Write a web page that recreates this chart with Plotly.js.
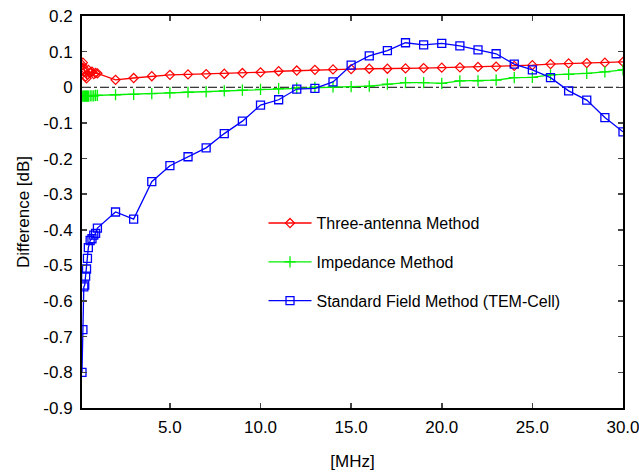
<!DOCTYPE html>
<html><head><meta charset="utf-8">
<script src="https://cdn.plot.ly/plotly-3.0.1.min.js"></script>
<style>html,body{margin:0;padding:0;background:#fff}#chart{width:639px;height:473px}</style>
</head><body><div id="chart"></div>
<script>
const freqThree = [0.15,0.2,0.25,0.3,0.35,0.4,0.45,0.5,0.6,0.7,0.8,0.9,1,2,3,4,5,6,7,8,9,10,11,12,13,14,15,16,17,18,19,20,21,22,23,24,25,26,27,28,29,30];
const threeAntenna = [0.063,0.069,0.053,0.044,0.030,0.025,0.035,0.049,0.040,0.044,0.037,0.040,0.039,0.021,0.026,0.031,0.035,0.036,0.037,0.038,0.040,0.042,0.045,0.047,0.049,0.050,0.051,0.052,0.052,0.053,0.054,0.055,0.056,0.057,0.058,0.060,0.062,0.065,0.067,0.068,0.069,0.071];
const freqImp = [0.15,0.2,0.25,0.3,0.35,0.4,0.45,0.5,0.6,0.7,0.8,0.9,1,2,3,4,5,6,7,8,9,10,11,12,13,14,15,16,17,18,19,20,21,22,23,24,25,26,27,28,29,30];
const impedance = [-0.025,-0.025,-0.025,-0.025,-0.025,-0.025,-0.025,-0.025,-0.024,-0.024,-0.024,-0.023,-0.023,-0.021,-0.020,-0.018,-0.016,-0.014,-0.012,-0.010,-0.008,-0.006,-0.004,-0.002,0.000,0.001,0.002,0.003,0.009,0.013,0.013,0.011,0.018,0.018,0.020,0.027,0.028,0.035,0.036,0.039,0.043,0.049];
const freqStd = [0.15,0.2,0.25,0.3,0.35,0.4,0.45,0.5,0.6,0.7,0.8,0.9,1,2,3,4,5,6,7,8,9,10,11,12,13,14,15,16,17,18,19,20,21,22,23,24,25,26,27,28,29,30];
const standardField = [-0.80,-0.68,-0.56,-0.555,-0.53,-0.51,-0.48,-0.45,-0.43,-0.425,-0.415,-0.41,-0.395,-0.35,-0.37,-0.265,-0.22,-0.195,-0.17,-0.13,-0.095,-0.05,-0.035,-0.005,-0.003,0.015,0.062,0.088,0.103,0.125,0.119,0.123,0.116,0.105,0.094,0.065,0.049,0.027,-0.01,-0.036,-0.085,-0.125];
const zeroLineX = [0.15,30];
const zeroLineY = [0,0];
const yTickVals = [0.2,0.1,0,-0.1,-0.2,-0.3,-0.4,-0.5,-0.6,-0.7,-0.8,-0.9];
const yTickText = ['0.2','0.1','0','-0.1','-0.2','-0.3','-0.4','-0.5','-0.6','-0.7','-0.8','-0.9'];
const xTickVals = [5,10,15,20,25,30];
const xTickText = ['5.0','10.0','15.0','20.0','25.0','30.0'];

const traces = [
  {x: zeroLineX, y: zeroLineY, mode:'lines', line:{color:'#000', width:1, dash:'dashdot'}, showlegend:false, hoverinfo:'skip'},
  {x: freqThree, y: threeAntenna, name:'Three-antenna Method', mode:'lines+markers', legendgroup:'a',
   line:{color:'#ff0000', width:1.3}, marker:{symbol:'diamond-open', size:7, color:'#ff0000', line:{width:1.2}}},
  {x: freqImp, y: impedance, name:'Impedance Method', mode:'lines+markers', legendgroup:'b',
   line:{color:'#00f000', width:1.3}, marker:{symbol:'cross-thin-open', size:8, color:'#00f000', line:{width:1.3, color:'#00f000'}}},
  {x: freqStd, y: standardField, name:'Standard Field Method (TEM-Cell)', mode:'lines+markers', legendgroup:'c',
   line:{color:'#0000ff', width:1.3}, marker:{symbol:'square-open', size:8, color:'#0000ff', line:{width:1.3}}}
];

const layout = {
  width:639, height:473,
  margin:{l:82, r:16, t:16, b:65},
  paper_bgcolor:'#fff', plot_bgcolor:'#fff',
  font:{family:'Liberation Sans, Arial, sans-serif', size:17, color:'#000'},
  showlegend:true,
  legend:{x:0.3355, y:0.515, xanchor:'left', yanchor:'top', bgcolor:'rgba(0,0,0,0)', borderwidth:0,
          font:{size:16}, tracegroupgap:15, itemwidth:43},
  xaxis:{range:[0.15,30], tickvals:xTickVals, ticktext:xTickText, ticks:'inside', ticklen:5, tickwidth:1.5,
         showline:true, linewidth:2, linecolor:'#000', mirror:'ticks', showgrid:false, zeroline:false,
         ticklabeloverflow:'allow', ticklabelstandoff:3,
         tickfont:{size:17}, title:{text:'[MHz]', font:{size:17}, standoff:19}},
  yaxis:{range:[-0.9,0.2], tickvals:yTickVals, ticktext:yTickText, ticks:'inside', ticklen:5, tickwidth:1.5,
         showline:true, linewidth:2, linecolor:'#000', mirror:'ticks', showgrid:false, zeroline:false,
         ticklabelstandoff:4,
         tickfont:{size:17}, title:{text:'Difference [dB]', font:{size:17}, standoff:9}}
};
Plotly.newPlot('chart', traces, layout, {displayModeBar:false, staticPlot:true});
</script></body></html>
